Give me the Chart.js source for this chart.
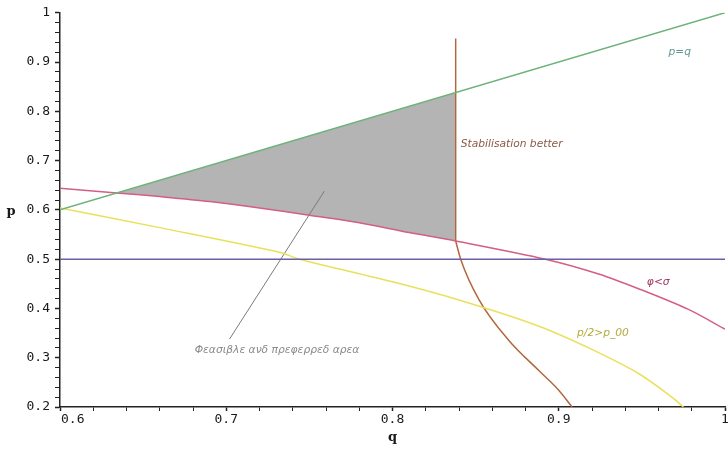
<!DOCTYPE html>
<html>
<head>
<meta charset="utf-8">
<script src="https://cdn.jsdelivr.net/npm/chart.js@4.4.1/dist/chart.umd.min.js"></script>
<style>
  html, body { margin: 0; padding: 0; background: #fff; }
  #wrap { width: 728px; height: 450px; }
</style>
</head>
<body>
<div id="wrap"><canvas id="plot" width="728" height="450"></canvas></div>
<script>
// values (q, p)
const diagQ = [0.6, 1.0];
const diagP = [0.6, 1.0];

const halfQ = [0.6, 1.0];
const halfP = [0.5, 0.5];

const pinkQ = [0.6, 0.636, 0.66, 0.69, 0.72, 0.75, 0.78, 0.81, 0.838, 0.892, 0.924, 0.948, 0.978, 1.0];
const pinkP = [0.644, 0.634, 0.627, 0.617, 0.604, 0.589, 0.574, 0.554, 0.537, 0.5, 0.47, 0.44, 0.398, 0.358];

const yellowQ = [0.6, 0.66, 0.732, 0.744, 0.8, 0.84, 0.888, 0.918, 0.948, 0.968, 0.975];
const yellowP = [0.604, 0.564, 0.514, 0.5, 0.454, 0.417, 0.364, 0.32, 0.268, 0.22, 0.2];

// stabilisation line: vertical part, then the bending part
const stabQ = 0.838;
const stabTopP = 0.948;
const brownQ = [0.838, 0.841, 0.852, 0.87, 0.888, 0.9, 0.908];
const brownP = [0.537, 0.5, 0.418, 0.335, 0.274, 0.234, 0.2];

const pointerQ = [0.759, 0.702];
const pointerP = [0.638, 0.338];

const pts = (xs, ys) => xs.map((x, i) => ({ x, y: ys[i] }));

// shaded area: under p=q, above the pink curve, left of the stabilisation line
const lowEdge = pts(pinkQ, pinkP).filter(d => d.x >= 0.636 && d.x <= stabQ);
const region = [{ x: lowEdge[0].x, y: lowEdge[0].x }, { x: stabQ, y: stabQ }]
  .concat(lowEdge.slice().reverse());

const notes = [
  { q: 0.841, p: 0.734, text: 'Stabilisation better', color: '#8c5a44' },
  { q: 0.966, p: 0.920, text: 'p=q', color: '#5f9a96' },
  { q: 0.911, p: 0.350, text: 'p/2>p_00', color: '#b3ab3c' },
  { q: 0.953, p: 0.454, text: 'φ<σ', color: '#9c2f5c' },
  { q: 0.681, p: 0.316, text: 'Φεασιβλε ανδ πρεφερρεδ αρεα', color: '#8a8a8a' },
];

const tickFont = '13px "DejaVu Sans Mono"';
const isMajor = v => Math.abs(v * 10 - Math.round(v * 10)) < 1e-6;

const notePlugin = {
  id: 'notes',
  afterDraw(chart) {
    const { ctx, scales: { x, y } } = chart;
    ctx.save();
    ctx.font = 'italic 10.7px "DejaVu Sans"';
    ctx.textBaseline = 'middle';
    ctx.textAlign = 'left';
    notes.forEach(n => {
      ctx.fillStyle = n.color;
      ctx.fillText(n.text, x.getPixelForValue(n.q), y.getPixelForValue(n.p));
    });
    // x tick labels, first one pushed right of the y axis like the original
    ctx.font = tickFont;
    ctx.fillStyle = '#1a1a1a';
    ctx.textBaseline = 'top';
    x.ticks.filter(t => isMajor(t.value)).forEach((t, i) => {
      ctx.textAlign = i === 0 ? 'left' : 'center';
      const label = (Math.round(t.value * 10) / 10).toString();
      ctx.fillText(label, x.getPixelForValue(t.value) + (i === 0 ? 1 : 0), y.bottom + 6);
    });
    // axis names
    ctx.font = 'bold 13px "DejaVu Serif"';
    ctx.textAlign = 'center';
    ctx.textBaseline = 'middle';
    ctx.fillText('q', x.getPixelForValue(0.8), 438);
    ctx.fillText('p', 11, y.getPixelForValue(0.6) + 2);
    ctx.restore();
  }
};

new Chart(document.getElementById('plot'), {
  type: 'scatter',
  data: {
    datasets: [
      { data: pts(diagQ, diagP), borderColor: '#6db27a', borderWidth: 1.5, order: 1 },
      { data: pts(halfQ, halfP), borderColor: '#6c5fa6', borderWidth: 1.5, order: 2 },
      { data: pts(pinkQ, pinkP), borderColor: '#d45f82', borderWidth: 1.5, tension: 0.3, order: 3 },
      { data: pts(yellowQ, yellowP), borderColor: '#e9e05c', borderWidth: 1.5, tension: 0.3, order: 4 },
      { data: [{ x: stabQ, y: stabTopP }, { x: brownQ[0], y: brownP[0] }], borderColor: '#b3673f', borderWidth: 1.5, order: 5 },
      { data: pts(brownQ, brownP), borderColor: '#b3673f', borderWidth: 1.5, cubicInterpolationMode: 'monotone', order: 5 },
      { data: pts(pointerQ, pointerP), borderColor: '#7a7a7a', borderWidth: 1, order: 6 },
      { data: region, borderWidth: 0, borderColor: 'rgba(0,0,0,0)', backgroundColor: '#b4b4b4', fill: 'shape', order: 10 },
    ]
  },
  options: {
    responsive: false,
    animation: false,
    showLine: true,
    elements: { point: { radius: 0, hoverRadius: 0 } },
    layout: { autoPadding: false, padding: { top: 7, right: 0, left: 0, bottom: 0 } },
    plugins: { legend: { display: false }, tooltip: { enabled: false } },
    scales: {
      x: {
        type: 'linear', min: 0.6, max: 1.0,
        afterFit: s => { s.height = 43; },
        border: { color: '#222', width: 1.5 },
        grid: { drawOnChartArea: false, tickLength: 4, tickColor: '#222', tickWidth: c => isMajor(c.tick.value) ? 1.5 : 1 },
        ticks: { stepSize: 0.02, autoSkip: false, maxRotation: 0, callback: () => '' }
      },
      y: {
        type: 'linear', min: 0.2, max: 1.0,
        afterFit: s => { s.width = 60; },
        border: { color: '#222', width: 1.5 },
        grid: { drawOnChartArea: false, tickLength: 5, tickColor: '#222', tickWidth: c => isMajor(c.tick.value) ? 1.5 : 1 },
        ticks: {
          stepSize: 0.02, autoSkip: false, padding: 5, color: '#1a1a1a',
          font: { family: '"DejaVu Sans Mono"', size: 13 },
          callback: v => isMajor(v) ? (Math.round(v * 10) / 10).toString() : ''
        }
      }
    }
  },
  plugins: [notePlugin]
});
</script>
</body>
</html>
